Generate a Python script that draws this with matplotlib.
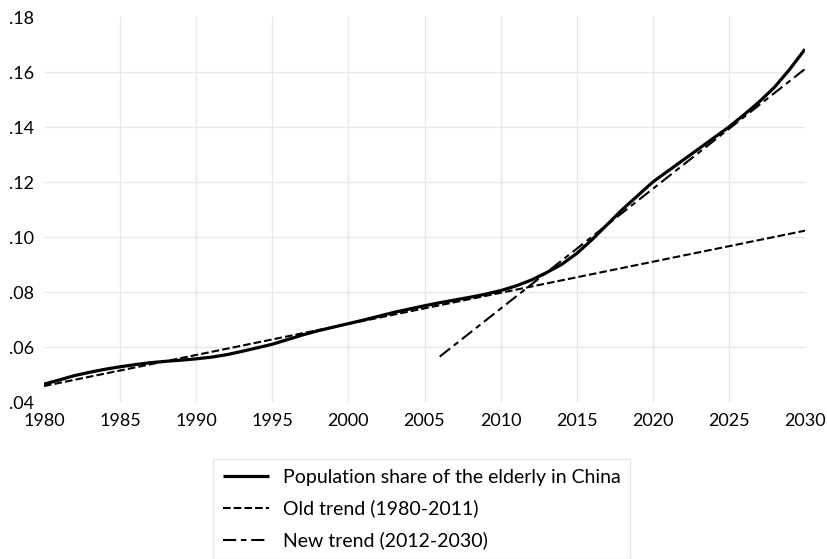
import matplotlib
matplotlib.use("Agg")
import matplotlib.pyplot as plt
import numpy as np

plt.rcParams['font.family'] = ['Lato', 'DejaVu Sans']
plt.rcParams['lines.scale_dashes'] = False

years = list(range(1980, 2031))
share = [0.0465, 0.0480, 0.0496, 0.0508, 0.0519, 0.0528, 0.0536, 0.0543, 0.0548, 0.0552,
         0.0557, 0.0563, 0.0572, 0.0584, 0.0597, 0.0610, 0.0627, 0.0644, 0.0659, 0.0672,
         0.0685, 0.0698, 0.0712, 0.0726, 0.0738, 0.0750, 0.0761, 0.0771, 0.0781, 0.0792,
         0.0805, 0.0822, 0.0843, 0.0870, 0.0900, 0.0940, 0.0990, 0.1045, 0.1100, 0.1150,
         0.1200, 0.1240, 0.1280, 0.1320, 0.1360, 0.1400, 0.1445, 0.1492, 0.1545, 0.1610,
         0.1683]

old_years = [1980, 2030]
old_trend = [0.0458, 0.1023]
new_years = [2006, 2030]
new_trend = [0.0565, 0.1611]

xticks = [1980, 1985, 1990, 1995, 2000, 2005, 2010, 2015, 2020, 2025, 2030]
yticks = [0.04, 0.06, 0.08, 0.10, 0.12, 0.14, 0.16, 0.18]
ytick_labels = ['.04', '.06', '.08', '.10', '.12', '.14', '.16', '.18']

fig = plt.figure(figsize=(8.28, 5.59), dpi=100)
ax = fig.add_axes([44/828, 1-402/559, (805-44)/828, (402-17)/559])

ax.plot(years, share, color='black', lw=2.3, solid_capstyle='butt',
        label='Population share of the elderly in China', zorder=4)
ax.plot(old_years, old_trend, color='black', lw=1.5, dashes=(5.5, 2.2),
        label='Old trend (1980-2011)', zorder=3)
ax.plot(new_years, new_trend, color='black', lw=1.5, dashes=(9.5, 3.4, 4.0, 3.4),
        label='New trend (2012-2030)', zorder=3)

ax.set_xlim(1980, 2030)
ax.set_ylim(0.04, 0.18)
ax.set_xticks(xticks)
ax.set_xticklabels([str(x) for x in xticks])
ax.set_yticks(yticks)
ax.set_yticklabels(ytick_labels)
ax.tick_params(length=0, labelsize=13)
ax.tick_params(axis='x', pad=8)
ax.tick_params(axis='y', pad=7)
for s in ax.spines.values():
    s.set_visible(False)

for x in xticks[1:-1]:
    ax.axvline(x, color='#e8e8e8', lw=1, zorder=0)
for y in yticks[1:-1]:
    ax.axhline(y, color='#e8e8e8', lw=1, zorder=0)

leg = fig.legend(loc='upper left', bbox_to_anchor=(213/828, 1-459/559),
                 bbox_transform=fig.transFigure, borderaxespad=0,
                 fontsize=14, frameon=True, fancybox=False, edgecolor='#e0e0e0',
                 handlelength=2.4, handletextpad=0.7, labelspacing=0.72,
                 borderpad=0.5)
leg.get_frame().set_linewidth(1)

fig.savefig('out.png', dpi=100)
